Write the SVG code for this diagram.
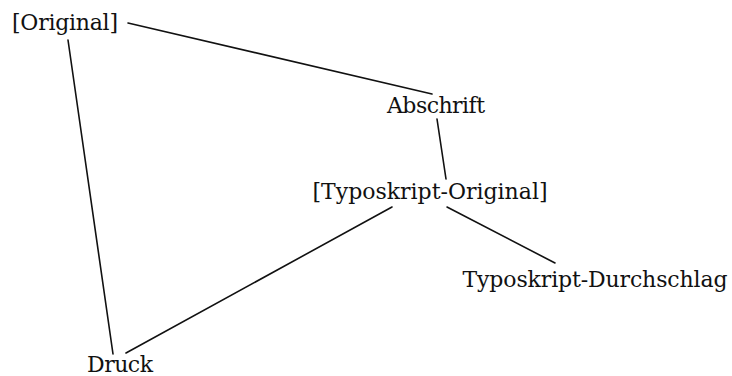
<svg xmlns="http://www.w3.org/2000/svg" width="732" height="376" viewBox="0 0 732 376">
  <style>
    .label { font-family: "DejaVu Serif", "Liberation Serif", serif; font-size: 22px; fill: #111; text-anchor: middle; }
    .edge { stroke: #111; stroke-width: 1.6; fill: none; stroke-linecap: round; }
  </style>
  <rect width="732" height="376" fill="#fff"/>
  <g id="connectors">
    <line class="edge" x1="128" y1="23" x2="432" y2="94"/>
    <line class="edge" x1="68" y1="40" x2="113" y2="354"/>
    <line class="edge" x1="437" y1="119" x2="446" y2="179"/>
    <line class="edge" x1="392" y1="207" x2="126" y2="353"/>
    <line class="edge" x1="447" y1="207" x2="555" y2="263"/>
  </g>
  <g id="original"><text class="label" x="65" y="30" textLength="106">[Original]</text></g>
  <g id="abschrift"><text class="label" x="436" y="113" textLength="98">Abschrift</text></g>
  <g id="typoskript-original"><text class="label" x="430" y="199" textLength="235">[Typoskript-Original]</text></g>
  <g id="typoskript-durchschlag"><text class="label" x="595" y="287" textLength="265">Typoskript-Durchschlag</text></g>
  <g id="druck"><text class="label" x="120" y="372" textLength="66">Druck</text></g>
</svg>
